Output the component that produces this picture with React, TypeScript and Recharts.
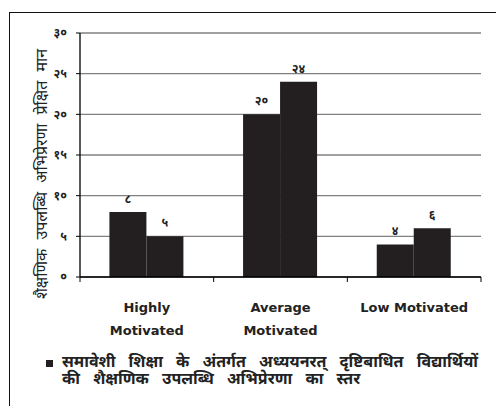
import React from "react";
import { Bar, BarChart, CartesianGrid, LabelList, Legend, XAxis, YAxis } from "recharts";

const categories = ["Highly\nMotivated", "Average\nMotivated", "Low Motivated"];
const firstValues = [8, 20, 4];
const secondValues = [5, 24, 6];
const yTicks = [0, 5, 10, 15, 20, 25, 30];
const yTickLabels = ["०", "५", "१०", "१५", "२०", "२५", "३०"];
const seriesName = "समावेशी शिक्षा के अंतर्गत अध्ययनरत् दृष्टिबाधित विद्यार्थियों\nकी शैक्षणिक उपलब्धि अभिप्रेरणा का स्तर";
const yAxisTitle = "शैक्षणिक उपलब्धि अभिप्रेरणा प्रेक्षित मान";

const data = categories.map((name, i) => ({ name, a: firstValues[i], b: secondValues[i] }));

const DEVA = "'Noto Sans Devanagari', 'Lohit Devanagari', Mangal, 'Noto Sans', sans-serif";
const DIGITS = "०१२३४५६७८९";
const toDeva = (v: unknown) => String(v).replace(/[0-9]/g, (d) => DIGITS[Number(d)]);
const numStyle = { fill: "#222", fontSize: 12, fontWeight: "bold", fontFamily: DEVA };

function CategoryTick({ x, y, payload, index }: any) {
  const lines = String(payload.value).split("\n");
  const half = payload.offset ?? 0;
  return (
    <g>
      {index === 0 && <line x1={x - half} x2={x - half} y1={y} y2={y + 5} stroke="#000" />}
      <line x1={x + half} x2={x + half} y1={y} y2={y + 5} stroke="#000" />
      <text x={x} y={y + 35} textAnchor="middle" fill="#222" fontFamily="'DejaVu Sans', Verdana, sans-serif" fontWeight="bold" fontSize={13}>
        {lines.map((l, i) => (
          <tspan key={i} x={x} dy={i === 0 ? 0 : 23}>{l}</tspan>
        ))}
      </text>
    </g>
  );
}

function LegendBox({ payload }: any) {
  const item = payload?.[0];
  if (!item) return null;
  return (
    <div style={{ display: "flex", alignItems: "flex-start", fontFamily: DEVA, fontWeight: "bold", fontSize: 16, color: "#222", lineHeight: "17px", wordSpacing: 9 }}>
      <span style={{ width: 7, height: 7, background: "#231f20", marginTop: 5, marginRight: 9, flex: "none" }} />
      <span style={{ whiteSpace: "pre-line" }}>{item.value}</span>
    </div>
  );
}

export default function App() {
  return (
    <div style={{ position: "absolute", left: 0, top: 0, width: 496, height: 406, background: "#fff", overflow: "hidden" }}>
      <div style={{ position: "absolute", left: 9, top: 12, width: 490, height: 400, borderTop: "1.5px solid #111", borderLeft: "1.5px solid #111" }} />
      <BarChart width={496} height={406} data={data} margin={{ top: 33, right: 15, left: 20, bottom: 99 }}
        barCategoryGap="22%" barGap={0} style={{ position: "absolute", left: 0, top: 0 }}>
        <CartesianGrid horizontal vertical={false} stroke="#808080" strokeWidth={1.3} />
        <XAxis dataKey="name" height={30} tick={<CategoryTick />} tickLine={false} tickSize={0} tickMargin={0}
          axisLine={{ stroke: "#000", strokeWidth: 1.3 }} interval={0} />
        <YAxis width={60} domain={[0, 30]} ticks={yTicks} interval={0}
          tickFormatter={(_v: number, i: number) => yTickLabels[i]} tickSize={4} tickMargin={9}
          tick={numStyle} tickLine={{ stroke: "#000" }} axisLine={{ stroke: "#000", strokeWidth: 1.3 }} />
        <Legend layout="horizontal" verticalAlign="middle" align="center" content={<LegendBox />}
          wrapperStyle={{ top: 355, left: 46, width: 445 }} />
        <Bar dataKey="a" name={seriesName} fill="#231f20" isAnimationActive={false}>
          <LabelList dataKey="a" position="top" offset={9} formatter={toDeva} style={numStyle} />
        </Bar>
        <Bar dataKey="b" name={seriesName} fill="#231f20" isAnimationActive={false} legendType="none">
          <LabelList dataKey="b" position="top" offset={9} formatter={toDeva} style={numStyle} />
        </Bar>
      </BarChart>
      {/* y-axis title, drawn over the chart's left strip */}
      <svg width={496} height={406} style={{ position: "absolute", left: 0, top: 0, pointerEvents: "none" }}>
        <text x={43} y={174} transform="rotate(-90 43 174)" textAnchor="middle" dominantBaseline="central"
          fill="#222" fontFamily={DEVA} fontSize={16} wordSpacing={5}>
          {yAxisTitle}
        </text>
      </svg>
    </div>
  );
}
